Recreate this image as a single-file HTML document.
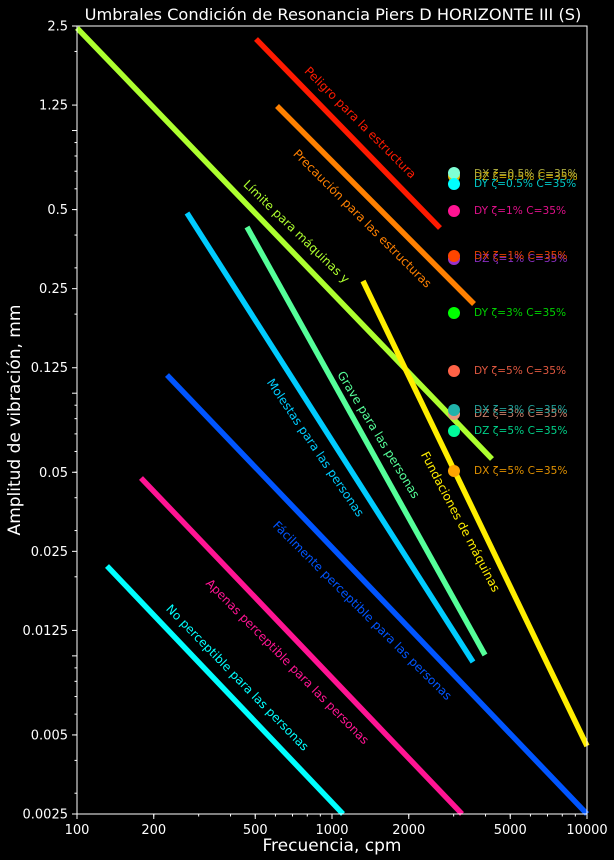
<!DOCTYPE html>
<html><head><meta charset="utf-8"><style>
html,body{margin:0;padding:0;background:#000;}
svg{display:block;font-family:"DejaVu Sans","Liberation Sans",sans-serif;}
</style></head><body>
<svg id="s" width="614" height="860" viewBox="0 0 614 860" xmlns="http://www.w3.org/2000/svg">
<rect width="614" height="860" fill="#000"/>
<text x="333" y="20" fill="#fff" font-size="16.2" text-anchor="middle">Umbrales Condición de Resonancia Piers D HORIZONTE III (S)</text>
<g id="ticks" stroke="#fff" stroke-width="1"></g>
<g id="tl" fill="#fff" font-size="13"></g>
<g stroke-linecap="butt" stroke-width="5.5" fill="none">
<line x1="256" y1="39" x2="440" y2="228" stroke="#ff1a00"/>
<line x1="277" y1="106" x2="474" y2="304" stroke="#ff8000"/>
<line x1="77" y1="28" x2="492" y2="459" stroke="#adff2f"/>
<line x1="187" y1="213" x2="473" y2="662" stroke="#00ccff"/>
<line x1="247" y1="227" x2="485" y2="655" stroke="#55ff99"/>
<line x1="363" y1="281" x2="587" y2="746" stroke="#ffee00"/>
<line x1="167" y1="375" x2="587" y2="814" stroke="#0055ff"/>
<line x1="141" y1="478" x2="462" y2="814" stroke="#ff1493"/>
<line x1="107" y1="566" x2="343" y2="814" stroke="#00ffff"/>
</g>
<g font-size="12" text-anchor="middle" dominant-baseline="middle">
<text transform="translate(360,123) rotate(45)" fill="#ff1a00">Peligro para la estructura</text>
<text transform="translate(362,219) rotate(45)" fill="#ff8000">Precaución para las estructuras</text>
<text transform="translate(296,232) rotate(44)" fill="#adff2f">Límite para máquinas y</text>
<text transform="translate(315,448) rotate(56)" fill="#00ccff">Molestas para las personas</text>
<text transform="translate(378,435) rotate(58.6)" fill="#55ff99">Grave para las personas</text>
<text transform="translate(460,522) rotate(62.4)" fill="#ffee00">Fundaciones de máquinas</text>
<text transform="translate(362,611) rotate(45)" fill="#0055ff">Fácilmente perceptible para las personas</text>
<text transform="translate(287,662) rotate(45.4)" fill="#ff1493">Apenas perceptible para las personas</text>
<text transform="translate(237,678) rotate(45.8)" fill="#00ffff">No perceptible para las personas</text>
</g>
<g font-size="10.6" dominant-baseline="middle">
<circle cx="454" cy="176" r="6" fill="#e6b800"/><text x="474" y="177" fill="#d4b000">DZ ζ=0.5% C=35%</text>
<circle cx="454" cy="173" r="6" fill="#7fffd4"/><text x="474" y="174" fill="#a8a840">DX ζ=0.5% C=35%</text>
<circle cx="454" cy="184" r="6" fill="#00ffff"/><text x="474" y="184" fill="#00c8c8">DY ζ=0.5% C=35%</text>
<circle cx="454" cy="211" r="6" fill="#ff1493"/><text x="474" y="211" fill="#e0108a">DY ζ=1% C=35%</text>
<circle cx="454" cy="259" r="6" fill="#9932cc"/><text x="474" y="259" fill="#8a2ec0">DZ ζ=1% C=35%</text>
<circle cx="454" cy="256" r="6" fill="#ff4500"/><text x="474" y="256" fill="#e04000">DX ζ=1% C=35%</text>
<circle cx="454" cy="313" r="6" fill="#00ff00"/><text x="474" y="313" fill="#00d000">DY ζ=3% C=35%</text>
<circle cx="454" cy="371" r="6" fill="#ff6347"/><text x="474" y="371" fill="#e05840">DY ζ=5% C=35%</text>
<circle cx="454" cy="414" r="6" fill="#e9967a"/><text x="474" y="414" fill="#c8806a">DZ ζ=3% C=35%</text>
<circle cx="454" cy="410" r="6" fill="#20b2aa"/><text x="474" y="410" fill="#20a098">DX ζ=3% C=35%</text>
<circle cx="454" cy="431" r="6" fill="#00fa9a"/><text x="474" y="431" fill="#00d088">DZ ζ=5% C=35%</text>
<circle cx="454" cy="471" r="6" fill="#ffa500"/><text x="474" y="471" fill="#e09000">DX ζ=5% C=35%</text>
</g>
<rect x="77" y="26" width="510" height="788" fill="none" stroke="#fff" stroke-width="1"/>
<text x="332" y="851" fill="#fff" font-size="17" text-anchor="middle">Frecuencia, cpm</text>
<text transform="translate(20,420) rotate(-90)" fill="#fff" font-size="17" text-anchor="middle">Amplitud de vibración, mm</text>
</svg>
<script>
var T=document.getElementById('ticks'),L=document.getElementById('tl'),ns="http://www.w3.org/2000/svg";
function ln(a,b,c,d){var e=document.createElementNS(ns,'line');e.setAttribute('x1',a);e.setAttribute('y1',b);e.setAttribute('x2',c);e.setAttribute('y2',d);T.appendChild(e);}
function tx(x,y,s,anc){var e=document.createElementNS(ns,'text');e.setAttribute('x',x);e.setAttribute('y',y);e.setAttribute('text-anchor',anc);e.textContent=s;L.appendChild(e);}
function X(v){return 77+Math.log10(v/100)*255;}
function Y(v){return 26+Math.log10(2.5/v)*262.67;}
for(var d=100;d<=10000;d*=10)for(var k=1;k<10;k++){var v=d*k;if(v>10000)break;var x=X(v);ln(x,814,x,k==1?819:816.5);}
[100,200,500,1000,2000,5000,10000].forEach(function(v){var x=X(v);ln(x,814,x,819);tx(x,834,v,'middle');});
for(var d=0.001;d<=1;d*=10)for(var k=1;k<10;k++){var v=d*k;if(v<0.0025||v>2.5)continue;var y=Y(v);ln(77,y,k==1?72:74.5,y);}
[2.5,1.25,0.5,0.25,0.125,0.05,0.025,0.0125,0.005,0.0025].forEach(function(v){var y=Y(v);ln(77,y,72,y);tx(68,y+4.5,String(v),'end');});
</script>
</body></html>
